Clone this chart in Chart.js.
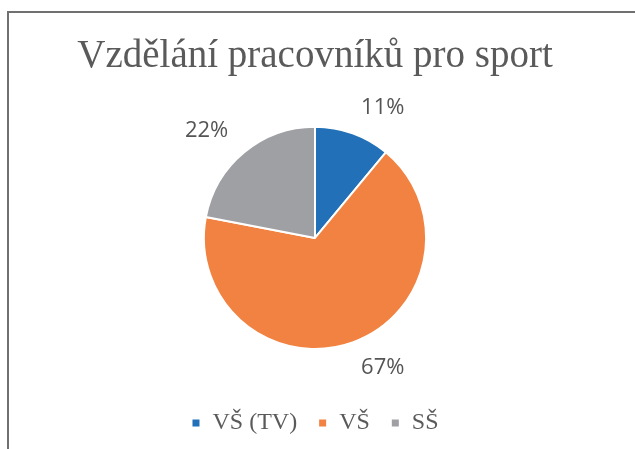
<!DOCTYPE html>
<html>
<head>
<meta charset="utf-8">
<script src="https://cdn.jsdelivr.net/npm/chart.js@4"></script>
<style>
  html, body { margin: 0; padding: 0; background: #ffffff; }
  #wrap { position: relative; width: 635px; height: 449px; overflow: hidden; }
  #frame { position: absolute; left: 7px; top: 11px; width: 640px; height: 450px;
           border-top: 2px solid #707070; border-left: 2px solid #707070; box-sizing: border-box; }
  canvas { position: absolute; left: 0; top: 0; }
</style>
</head>
<body>
<div id="wrap">
  <div id="frame"></div>
  <canvas id="c" width="635" height="449"></canvas>
</div>
<script>
const titleText = 'Vzdělání pracovníků pro sport';
const categories = ['VŠ (TV)', 'VŠ', 'SŠ'];
const shares = [11, 67, 22];
const sliceColors = ['#2170b8', '#f28241', '#9fa0a4'];

const pieLabels = {
  id: 'pieLabels',
  afterDatasetsDraw(chart) {
    const ctx = chart.ctx;
    const meta = chart.getDatasetMeta(0);
    ctx.save();
    ctx.font = '22px "Open Sans"';
    ctx.fillStyle = '#555555';
    ctx.textAlign = 'center';
    ctx.textBaseline = 'middle';
    meta.data.forEach((arc, i) => {
      const p = arc.getProps(['x', 'y', 'startAngle', 'endAngle', 'outerRadius'], true);
      const mid = (p.startAngle + p.endAngle) / 2;
      const dx = Math.cos(mid), dy = Math.sin(mid);
      const txt = shares[i] + '%';
      const w = ctx.measureText(txt).width;
      const r = p.outerRadius + 25;
      const x = p.x + dx * r + Math.sign(dx) * w / 2;
      const y = p.y + dy * r + Math.sign(dy) * 2;
      ctx.fillText(txt, x, y);
    });
    ctx.restore();
  }
};

new Chart(document.getElementById('c'), {
  type: 'pie',
  data: {
    labels: categories,
    datasets: [{
      data: shares,
      backgroundColor: sliceColors,
      borderColor: '#ffffff',
      borderWidth: 2,
      hoverOffset: 0,
      hoverBorderWidth: 2
    }]
  },
  options: {
    responsive: false,
    devicePixelRatio: 1,
    animation: false,
    layout: { padding: { top: 0, right: 5, bottom: 4, left: 0 } },
    plugins: {
      title: {
        display: true,
        text: titleText,
        color: '#5a5a5a',
        font: { family: '"Liberation Serif"', size: 39, weight: 'normal' },
        padding: { top: 33, bottom: 46 }
      },
      legend: {
        display: true,
        position: 'bottom',
        title: { display: true, text: '', font: { size: 10 }, padding: { top: 28, bottom: 0 } },
        labels: {
          boxWidth: 9,
          boxHeight: 9,
          padding: 21,
          color: '#5a5a5a',
          font: { family: '"Liberation Serif"', size: 24 }
        }
      },
      tooltip: { enabled: false }
    }
  },
  plugins: [pieLabels]
});
</script>
</body>
</html>
